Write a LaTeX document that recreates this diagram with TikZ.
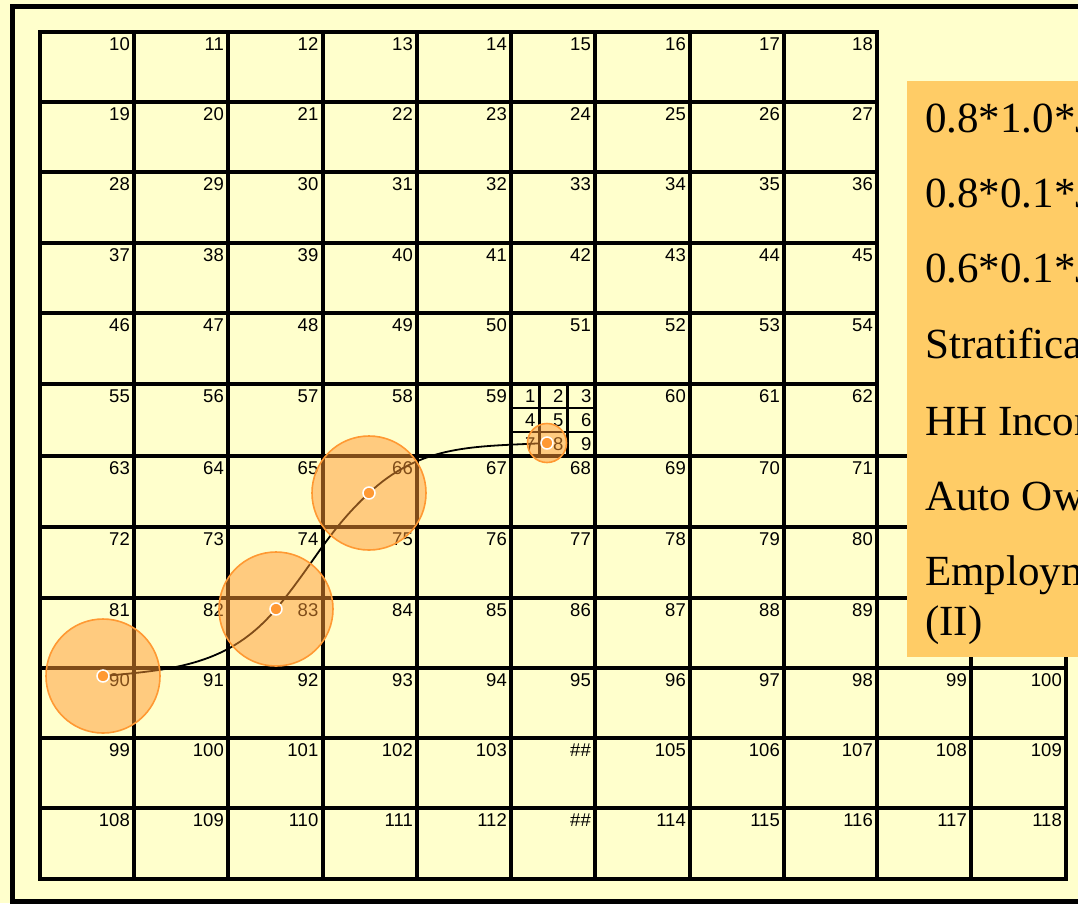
\documentclass[tikz,border=0pt]{standalone}
\usepackage{fontspec}
\setmainfont{Liberation Serif}
\setsansfont{Liberation Sans}
\definecolor{paper}{HTML}{FFFFCC}
\definecolor{boxfill}{HTML}{FFCC66}
\definecolor{zoneorange}{HTML}{FF9933}

\tikzset{
  cellline/.style={line width=4pt, line cap=rect},
  subline/.style={line width=2.5pt},
  cellnum/.style={anchor=base east, inner sep=0pt, font=\sffamily\fontsize{18.5}{21}\selectfont},
  zone/.style={draw=zoneorange, line width=1.6pt, fill=zoneorange, fill opacity=0.5},
  site/.style={circle, fill=zoneorange, draw=white, line width=1.5pt, minimum size=12pt, inner sep=0pt},
  boxtext/.style={anchor=base west, inner sep=0pt, font=\fontsize{43}{50}\selectfont},
}

\begin{document}
\begin{tikzpicture}[x=1pt, y=-1pt]
  \useasboundingbox (0,0) rectangle (1078,903);
  \clip (0,0) rectangle (1078,903);
  \fill[paper] (0,0) rectangle (1078,903);
  \draw[line width=5pt] (12,6.5) rectangle (1110,901);

  % zones: upper part 9 columns, lower part 11
  \foreach \y in {32,102,172,243,313,384}
    \draw[cellline] (40,\y) -- (877,\y);
  \foreach \y in {456,527,598,668,738,808,879}
    \draw[cellline] (40,\y) -- (1066,\y);
  \foreach \x in {40,134,228,322.5,417,511,595,690,784,877}
    \draw[cellline] (\x,32) -- (\x,879);
  \foreach \x in {971,1066}
    \draw[cellline] (\x,456) -- (\x,879);

  % the split zone
  \foreach \x in {539.5,567.5}
    \draw[subline] (\x,384) -- (\x,456);
  \foreach \y in {408,432}
    \draw[subline] (511,\y) -- (595,\y);

  \def\colright{{134,228,322.5,417,511,595,690,784,877,971,1066}}
  \foreach \yt/\labs in {
      32/{10,11,12,13,14,15,16,17,18},
      102/{19,20,21,22,23,24,25,26,27},
      172/{28,29,30,31,32,33,34,35,36},
      243/{37,38,39,40,41,42,43,44,45},
      313/{46,47,48,49,50,51,52,53,54},
      384/{55,56,57,58,59,{},60,61,62},
      456/{63,64,65,66,67,68,69,70,71},
      527/{72,73,74,75,76,77,78,79,80},
      598/{81,82,83,84,85,86,87,88,89},
      668/{90,91,92,93,94,95,96,97,98,99,100},
      738/{99,100,101,102,103,\#\#,105,106,107,108,109},
      808/{108,109,110,111,112,\#\#,114,115,116,117,118}}{
    \foreach \lab [count=\c from 0] in \labs {
      \pgfmathsetmacro\xr{\colright[\c]}
      \node[cellnum] (n\yt-\c) at (\xr-4,\yt+18.5) {\lab};
    }
  }
  \foreach \k in {1,...,9}{
    \pgfmathsetmacro\xr{539.5+28*mod(\k-1,3)}
    \pgfmathsetmacro\yt{384+24*div(\k-1,3)}
    \node[cellnum] (s\k) at (\xr-4,\yt+18.5) {\k};
  }

  % path through the sampled zones
  \coordinate (c90) at (103,676);
  \coordinate (c83) at (276,609);
  \coordinate (c66) at (369,493);
  \coordinate (c8) at (547,443);
  \draw[line width=1.8pt] (c90) to[out=5,in=230] (c83)
    to[out=50,in=223] (c66) to[out=43,in=183] (c8);

  \draw[zone] (c90) circle[radius=57pt];
  \draw[zone] (c83) circle[radius=57pt];
  \draw[zone] (c66) circle[radius=57pt];
  \draw[zone] (c8) circle[radius=19.5pt];
  \node[site] (d90) at (c90) {};
  \node[site] (d83) at (c83) {};
  \node[site] (d66) at (c66) {};
  \node[site] (d8) at (c8) {};

  % legend
  \fill[boxfill] (907,81) rectangle (1110,657);
  \node[boxtext] (t1) at (925,132) {0.8*1.0*J};
  \node[boxtext] (t2) at (925,207) {0.8*0.1*J};
  \node[boxtext] (t3) at (925,282) {0.6*0.1*J};
  \node[boxtext] (t4) at (925,358) {Stratification};
  \node[boxtext] (t5) at (925,435) {HH Income};
  \node[boxtext] (t6) at (925,510) {Auto Ownership};
  \node[boxtext] (t7) at (925,585) {Employment};
  \node[boxtext] (t8) at (925,635) {(II)};
\end{tikzpicture}
\end{document}
